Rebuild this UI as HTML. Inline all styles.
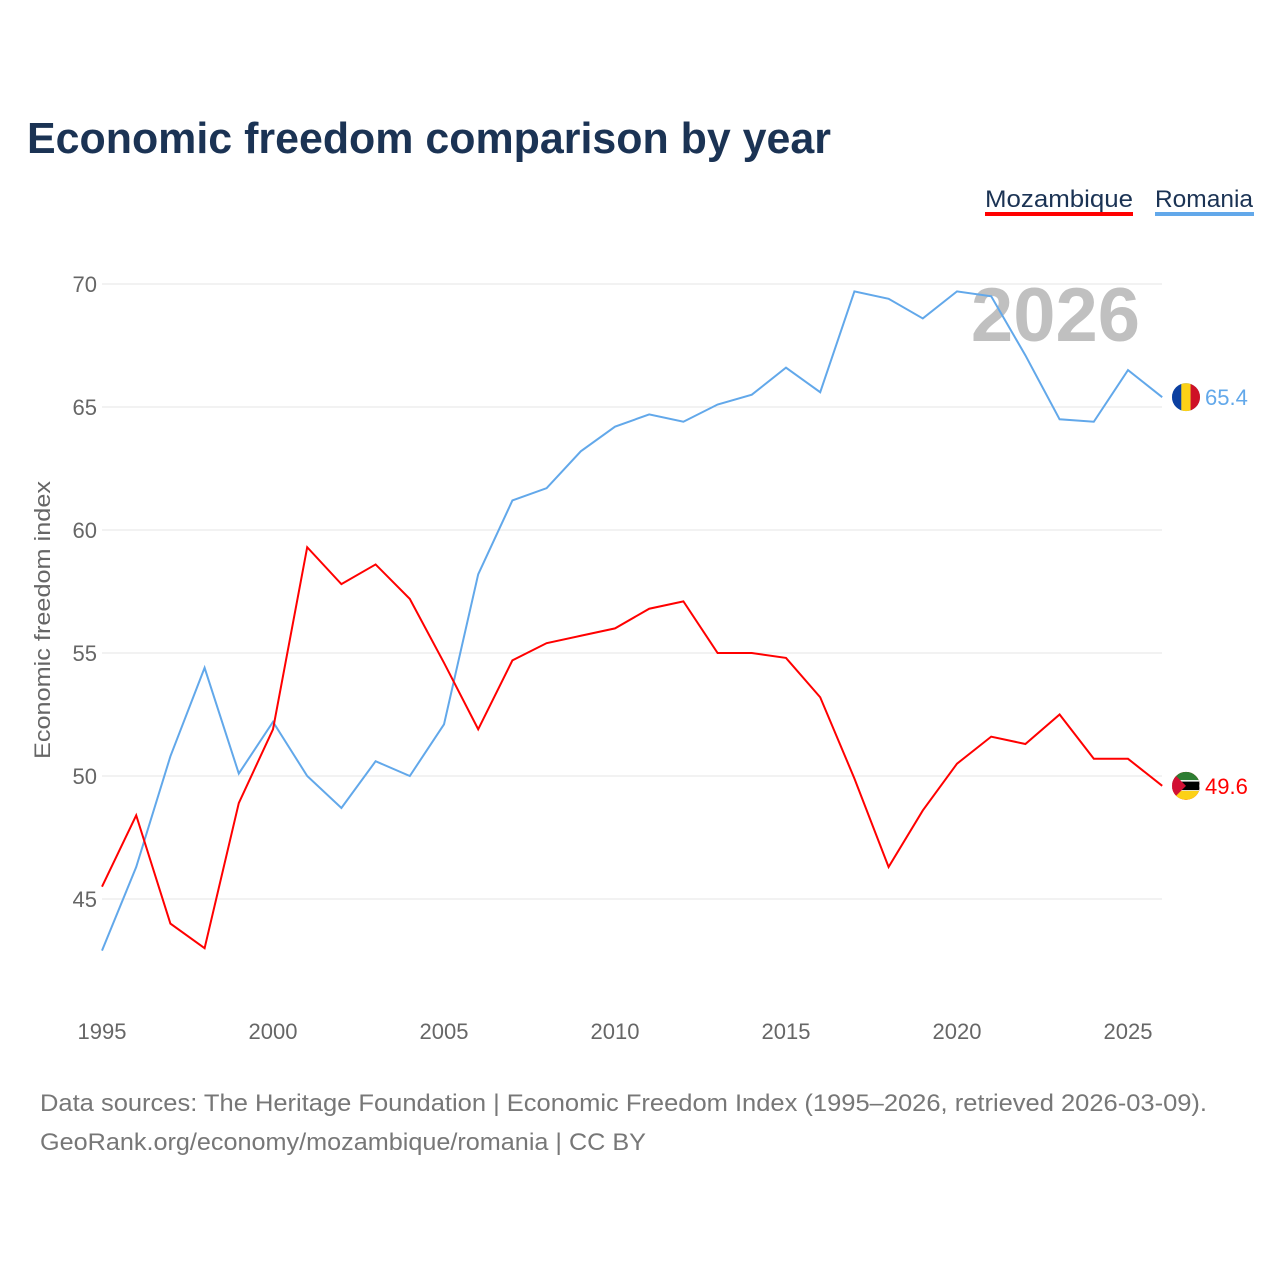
<!DOCTYPE html>
<html><head><meta charset="utf-8">
<style>
body{margin:0;background:#fff;font-family:"Liberation Sans",sans-serif;}
#wrap{position:relative;width:1280px;height:1280px;overflow:hidden;}
</style></head>
<body>
<div id="wrap">
<svg id="chart" width="1280" height="1280" xmlns="http://www.w3.org/2000/svg">
<text x="27" y="153" font-size="44" font-weight="bold" fill="#1b3354" textLength="804" lengthAdjust="spacingAndGlyphs">Economic freedom comparison by year</text>
<g>
<text x="985" y="207" font-size="24" fill="#1b3354" textLength="148" lengthAdjust="spacingAndGlyphs">Mozambique</text>
<rect x="985" y="212" width="148" height="4" fill="#ff0000"/>
<text x="1155" y="207" font-size="24" fill="#1b3354" textLength="98" lengthAdjust="spacingAndGlyphs">Romania</text>
<rect x="1155" y="212" width="99" height="4" fill="#62a8ea"/>
</g>
<text x="1140" y="341" font-size="76" font-weight="bold" fill="#c0c0c0" text-anchor="end">2026</text>
<text transform="translate(50,620) rotate(-90)" font-size="22" fill="#666" text-anchor="middle" textLength="278" lengthAdjust="spacingAndGlyphs">Economic freedom index</text>
<g id="grid"></g><g id="lines"></g>
<text x="40" y="1111" font-size="24" fill="#777" textLength="1167" lengthAdjust="spacingAndGlyphs">Data sources: The Heritage Foundation | Economic Freedom Index (1995–2026, retrieved 2026-03-09).</text>
<text x="40" y="1150" font-size="24" fill="#777" textLength="606" lengthAdjust="spacingAndGlyphs">GeoRank.org/economy/mozambique/romania | CC BY</text>
</svg>
</div>
<script>
const years=[1995,1996,1997,1998,1999,2000,2001,2002,2003,2004,2005,2006,2007,2008,2009,2010,2011,2012,2013,2014,2015,2016,2017,2018,2019,2020,2021,2022,2023,2024,2025,2026];
const romania=[42.9,46.3,50.8,54.4,50.1,52.2,50.0,48.7,50.6,50.0,52.1,58.2,61.2,61.7,63.2,64.2,64.7,64.4,65.1,65.5,66.6,65.6,69.7,69.4,68.6,69.7,69.5,67.1,64.5,64.4,66.5,65.4];
const mozambique=[45.5,48.4,44.0,43.0,48.9,51.9,59.3,57.8,58.6,57.2,54.6,51.9,54.7,55.4,55.7,56.0,56.8,57.1,55.0,55.0,54.8,53.2,49.9,46.3,48.6,50.5,51.6,51.3,52.5,50.7,50.7,49.6];
const yTicks=[45,50,55,60,65,70];
const xTicks=[1995,2000,2005,2010,2015,2020,2025];
const NS="http://www.w3.org/2000/svg";
const x=v=>102+(v-1995)*34.2;
const y=v=>776-(v-50)*24.6;
function mk(tag,attrs,parent,text){const e=document.createElementNS(NS,tag);for(const k in attrs)e.setAttribute(k,attrs[k]);if(text!==undefined)e.textContent=text;parent.appendChild(e);return e;}
const grid=document.getElementById('grid');
yTicks.forEach(t=>{
 const l=mk('line',{x1:102,x2:1162,y1:y(t),y2:y(t),stroke:'#e6e6e6','stroke-width':1},grid);
 
 
 const tx=mk('text',{x:97,y:y(t)+8,'font-size':22,fill:'#666','text-anchor':'end'},grid,t);
 
 
});
xTicks.forEach(t=>{
 const tx=mk('text',{x:x(t),y:1039,'font-size':22,fill:'#666','text-anchor':'middle'},grid,t);
 
 
});
const lines=document.getElementById('lines');
function series(vals,color,name){
 const p=mk('polyline',{points:vals.map((v,i)=>x(years[i])+','+y(v)).join(' '),fill:'none',stroke:color,'stroke-width':2},lines);
 
 
 const last=vals[vals.length-1];
 const c=mk('circle',{cx:1186,cy:y(last),r:14,fill:color},lines);
 
 
 const t=mk('text',{x:1205,y:y(last)+8,'font-size':22,fill:color},lines,last.toFixed(1));
 
 
 return c;
}
series(romania,'#62a8ea','romania');
series(mozambique,'#ff0000','mozambique');
const ry=y(romania[romania.length-1]);
[['#0b3fa0',1172],['#fcd116',1181.3],['#ce1126',1190.6]].forEach(([c,xx],i)=>{
 const r=mk('rect',{x:xx,y:ry-14,width:9.4,height:28,fill:c,'clip-path':'url(#rc)'},lines);
 
 
});
const my=y(mozambique[mozambique.length-1]);
const defs=mk('defs',{},lines);
const cp=mk('clipPath',{id:'rc'},defs);mk('circle',{cx:1186,cy:ry,r:14},cp);
const cp2=mk('clipPath',{id:'mc'},defs);mk('circle',{cx:1186,cy:my,r:14},cp2);
[['#2e7d32',my-14,9],['#000',my-5,10],['#fcd116',my+5,9]].forEach(([c,yy,h])=>{
 const r=mk('rect',{x:1172,y:yy,width:28,height:h,fill:c,'clip-path':'url(#mc)',stroke:c==='#000'?'#fff':'none','stroke-width':1.5},lines);
 
 
});
const tri=mk('polygon',{points:`1172,${my-14} 1186,${my} 1172,${my+14}`,fill:'#d21034','clip-path':'url(#mc)'},lines);


</script>
</body></html>
